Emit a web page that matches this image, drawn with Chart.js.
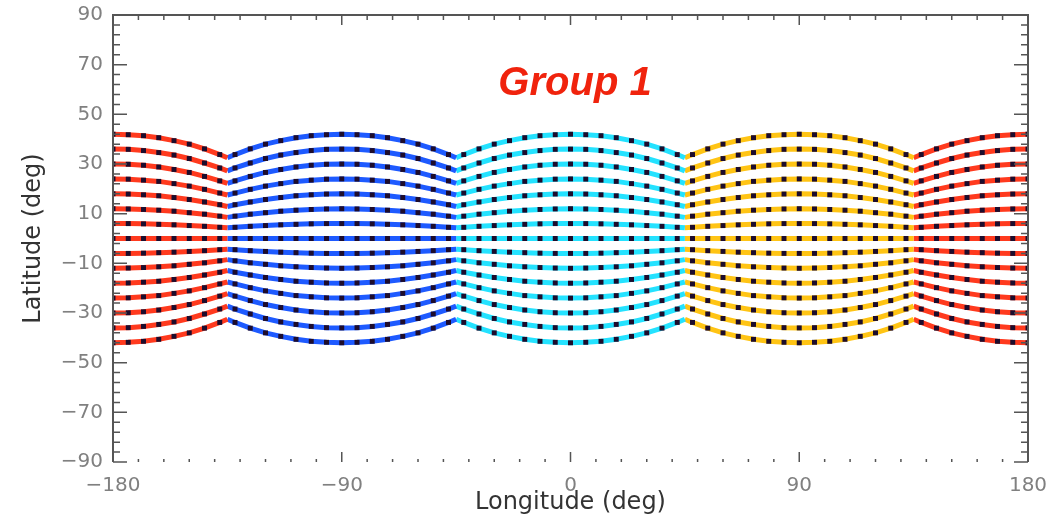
<!DOCTYPE html>
<html>
<head>
<meta charset="utf-8">
<script src="https://cdn.jsdelivr.net/npm/chart.js@4"></script>
<style>
  html, body { margin: 0; padding: 0; background: #fff; }
  #wrap { width: 1058px; height: 519px; }
</style>
</head>
<body>
<div id="wrap"><canvas id="gridChart" width="1058" height="519"></canvas></div>
<script>
// cube faces along the equator (the red one wraps round at +/-180)
const faceCenters = [-180, -90, 0, 90, 180];
const faceColors = ['#ff3a1e', '#1e5aff', '#24e2ff', '#ffc414', '#ff3a1e'];

// longitude offsets from the face centre, cell centres plus the face edges
const offsets = [-45, -42, -36, -30, -24, -18, -12, -6, 0, 6, 12, 18, 24, 30, 36, 42, 45];

// latitude of each grid row at |offset| = 0, 6, 12, 18, 24, 30, 36, 42, 45
const rowLats = [
  [42.0, 41.8, 41.4, 40.6, 39.4, 38.0, 36.1, 33.8, 32.5],
  [36.0, 35.9, 35.4, 34.6, 33.6, 32.2, 30.4, 28.4, 27.2],
  [30.0, 29.9, 29.5, 28.8, 27.8, 26.6, 25.0, 23.2, 22.2],
  [24.0, 23.9, 23.5, 23.0, 22.1, 21.1, 19.8, 18.3, 17.5],
  [18.0, 17.9, 17.6, 17.2, 16.5, 15.7, 14.7, 13.6, 12.9],
  [12.0, 11.9, 11.7, 11.4, 11.0, 10.4, 9.8, 9.0, 8.5],
  [6.0, 6.0, 5.9, 5.7, 5.5, 5.2, 4.9, 4.5, 4.3],
  [0, 0, 0, 0, 0, 0, 0, 0, 0],
  [-6.0, -6.0, -5.9, -5.7, -5.5, -5.2, -4.9, -4.5, -4.3],
  [-12.0, -11.9, -11.7, -11.4, -11.0, -10.4, -9.8, -9.0, -8.5],
  [-18.0, -17.9, -17.6, -17.2, -16.5, -15.7, -14.7, -13.6, -12.9],
  [-24.0, -23.9, -23.5, -23.0, -22.1, -21.1, -19.8, -18.3, -17.5],
  [-30.0, -29.9, -29.5, -28.8, -27.8, -26.6, -25.0, -23.2, -22.2],
  [-36.0, -35.9, -35.4, -34.6, -33.6, -32.2, -30.4, -28.4, -27.2],
  [-42.0, -41.8, -41.4, -40.6, -39.4, -38.0, -36.1, -33.8, -32.5]
];

const xTicks = [-180, -90, 0, 90, 180];
const yTicks = [-90, -70, -50, -30, -10, 10, 30, 50, 70, 90];

function latAt(row, o) {
  const a = Math.abs(o);
  return row[a === 45 ? 8 : a / 6];
}

const datasets = [];
faceCenters.forEach((c, f) => {
  rowLats.forEach(row => {
    datasets.push({
      data: offsets.map(o => ({ x: c + o, y: latAt(row, o) })),
      showLine: true,
      borderColor: faceColors[f],
      borderWidth: 5,
      tension: 0,
      pointStyle: 'rect',
      pointBackgroundColor: '#1d0c2c',
      pointBorderWidth: 0,
      pointRadius: ctx => (Math.abs(offsets[ctx.dataIndex]) === 45 ? 0 : 3.5),
      clip: 0
    });
  });
});

const minus = v => String(v).replace('-', '\u2212');

// IDL-like frame with ticks pointing inwards, and the group label
const frame = {
  id: 'frame',
  afterDatasetsDraw(chart) {
    const { ctx, chartArea: a, scales: { x, y } } = chart;
    ctx.save();
    ctx.strokeStyle = '#555';
    ctx.lineWidth = 2;
    ctx.beginPath();
    ctx.moveTo(a.left, a.bottom);
    ctx.lineTo(a.left, a.top);
    ctx.lineTo(a.right, a.top);
    ctx.lineTo(a.right, a.bottom);
    ctx.stroke();

    ctx.lineWidth = 1.5;
    ctx.beginPath();
    for (let v = -180; v <= 180; v += 10) {
      const px = x.getPixelForValue(v);
      const major = v % 90 === 0;
      ctx.moveTo(px, a.top);
      ctx.lineTo(px, a.top + (major ? 10 : 5));
      ctx.moveTo(px, a.bottom);
      ctx.lineTo(px, a.bottom - (major ? 10 : 3));
    }
    for (let v = -90; v <= 90; v += 4) {
      const py = y.getPixelForValue(v);
      const major = (v + 90) % 20 === 0;
      ctx.moveTo(a.left, py);
      ctx.lineTo(a.left + (major ? 14 : 7), py);
      ctx.moveTo(a.right, py);
      ctx.lineTo(a.right - (major ? 14 : 7), py);
    }
    ctx.stroke();

    ctx.fillStyle = '#f0230d';
    ctx.font = 'italic bold 40px "Liberation Sans", Arial, sans-serif';
    ctx.textAlign = 'center';
    ctx.textBaseline = 'alphabetic';
    ctx.fillText('Group 1', 575, 95);
    ctx.restore();
  }
};

new Chart(document.getElementById('gridChart'), {
  type: 'scatter',
  data: { datasets: datasets },
  options: {
    responsive: false,
    animation: false,
    layout: { padding: { top: 15, right: 30, left: 0, bottom: 0 } },
    plugins: {
      legend: { display: false },
      tooltip: { enabled: false }
    },
    scales: {
      x: {
        type: 'linear',
        min: -180,
        max: 180,
        afterBuildTicks: s => { s.ticks = xTicks.map(v => ({ value: v })); },
        afterFit: s => { s.height = 57; s.paddingLeft = 0; s.paddingRight = 0; },
        grid: { display: false, drawTicks: false },
        border: { display: false },
        ticks: {
          padding: 12,
          color: '#808080',
          font: { family: 'DejaVu Sans', size: 20 },
          maxRotation: 0,
          callback: v => minus(v)
        },
        title: {
          display: true,
          text: 'Longitude (deg)',
          color: '#333',
          font: { family: 'DejaVu Sans', size: 24 },
          padding: { top: 0, bottom: 2 }
        }
      },
      y: {
        min: -90,
        max: 90,
        afterBuildTicks: s => { s.ticks = yTicks.map(v => ({ value: v })); },
        afterFit: s => { s.width = 113; s.paddingTop = 0; s.paddingBottom = 0; },
        grid: { display: false, drawTicks: false },
        border: { display: false },
        ticks: {
          padding: 10,
          color: '#808080',
          font: { family: 'DejaVu Sans', size: 20 },
          callback: v => minus(v)
        },
        title: {
          display: true,
          text: 'Latitude (deg)',
          color: '#333',
          font: { family: 'DejaVu Sans', size: 24 },
          padding: { top: 19, bottom: 0 }
        }
      }
    }
  },
  plugins: [frame]
});
</script>
</body>
</html>
